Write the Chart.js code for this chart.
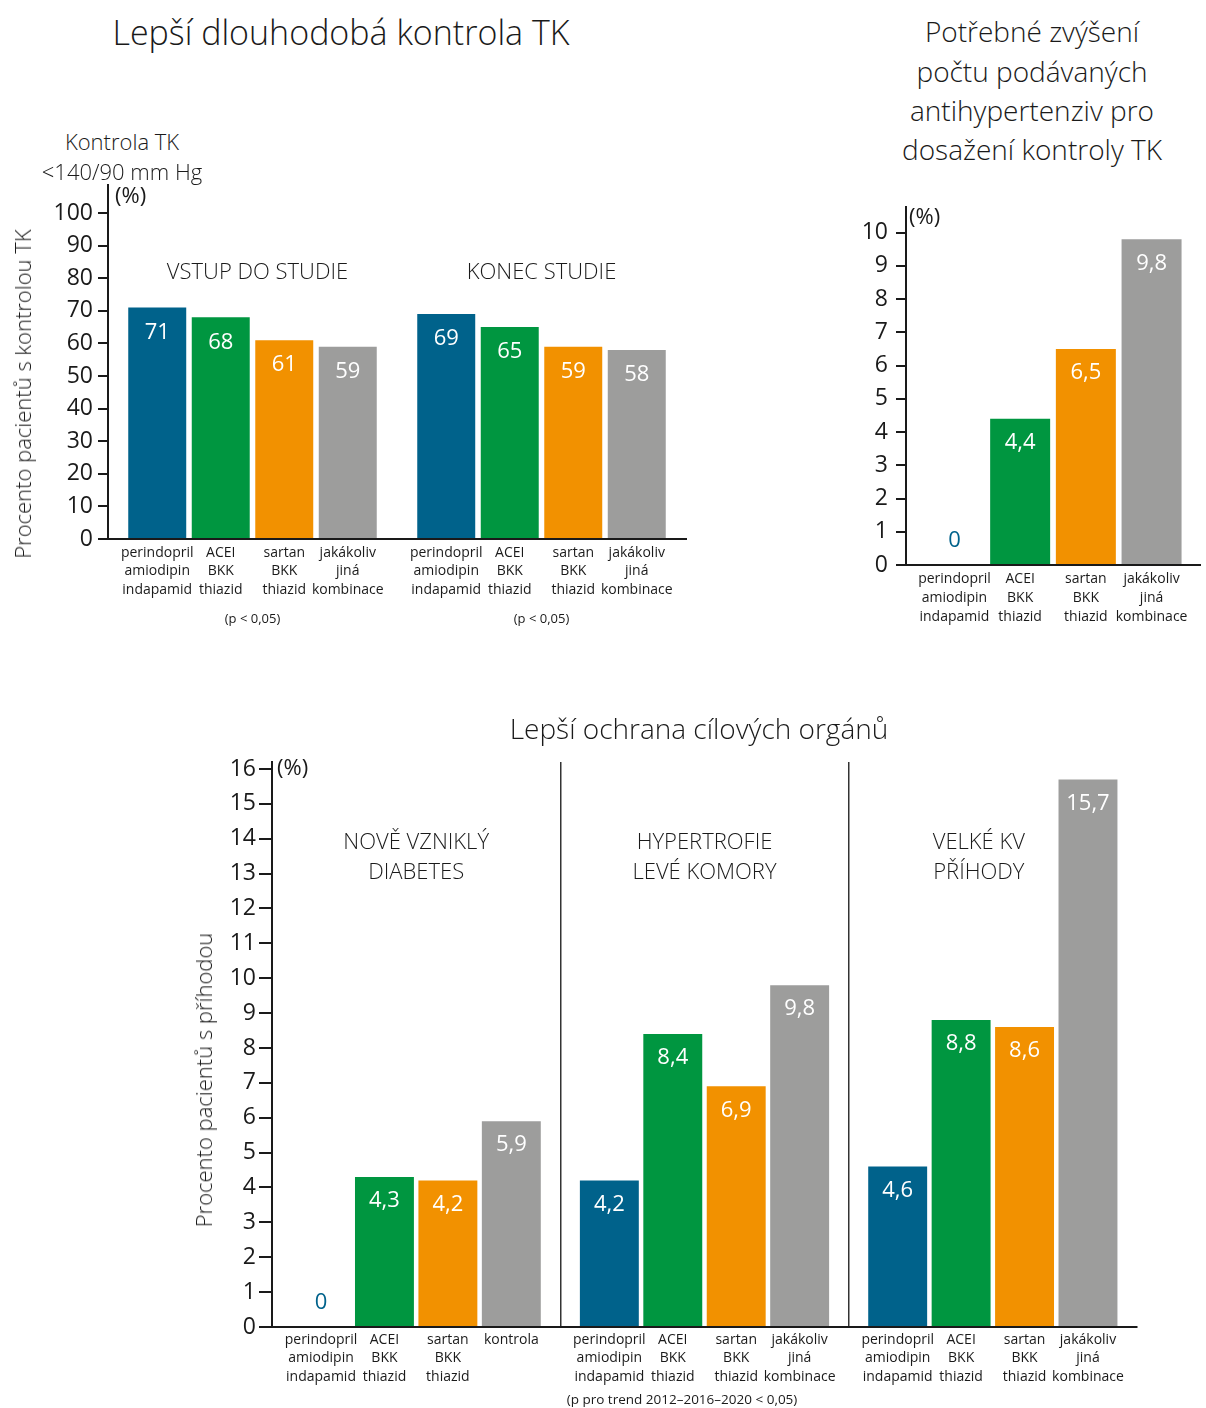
<!DOCTYPE html>
<html lang="cs">
<head>
<meta charset="utf-8">
<title>Kontrola TK a ochrana cílových orgánů</title>
<script src="https://cdn.jsdelivr.net/npm/chart.js@4.4.0/dist/chart.umd.min.js"></script>
<style>
  html, body { margin: 0; padding: 0; background: #fff; }
  #page { position: relative; width: 1206px; height: 1408px; overflow: hidden;
          font-family: "Open Sans", sans-serif; color: #1a1a1a; }
  .plot { position: absolute; }
  .t { position: absolute; white-space: nowrap; line-height: 1; transform: translate(-50%, -50%); z-index: 2; }
  .light { font-weight: 300; }
  .vert { transform: translate(-50%, -50%) rotate(-90deg); }
</style>
</head>
<body>
<div id="page">
  <div class="t light" style="left:341px; top:32px; font-size:34px;">Lepší dlouhodobá kontrola TK</div>
  <div class="t light" style="left:122px; top:141px; font-size:22px;">Kontrola TK</div>
  <div class="t light" style="left:122px; top:171px; font-size:22px;">&lt;140/90 mm Hg</div>
  <div class="t light vert" style="left:22px; top:394px; font-size:22px;">Procento pacientů s kontrolou TK</div>

  <div class="t light" style="left:1032px; top:31px; font-size:28px;">Potřebné zvýšení</div>
  <div class="t light" style="left:1032px; top:71px; font-size:28px;">počtu podávaných</div>
  <div class="t light" style="left:1032px; top:110px; font-size:28px;">antihypertenziv pro</div>
  <div class="t light" style="left:1032px; top:149px; font-size:28px;">dosažení kontroly TK</div>

  <div class="t light" style="left:699px; top:728px; font-size:28px;">Lepší ochrana cílových orgánů</div>
  <div class="t light vert" style="left:203px; top:1080px; font-size:22px;">Procento pacientů s příhodou</div>
  <div class="t" style="left:682px; top:1400px; font-size:13.5px;">(p pro trend 2012–2016–2020 &lt; 0,05)</div>

  <canvas id="bpControl" class="plot" style="left:0px; top:165px;" width="700" height="475"></canvas>
  <canvas id="drugIncrease" class="plot" style="left:840px; top:185px;" width="366" height="455"></canvas>
  <canvas id="organs" class="plot" style="left:180px; top:742px;" width="1000" height="666"></canvas>
</div>
<script>
// ---- shared series definitions ----
const seriesNames = ['perindopril + amiodipin + indapamid', 'ACEI + BKK + thiazid', 'sartan + BKK + thiazid', 'jakákoliv jiná kombinace'];
const seriesColors = ['#00628b', '#009640', '#f29100', '#9d9d9c'];
const regimenLabels = [
  ['perindopril', 'amiodipin', 'indapamid'],
  ['ACEI', 'BKK', 'thiazid'],
  ['sartan', 'BKK', 'thiazid'],
  ['jakákoliv', 'jiná', 'kombinace']
];
const controlLabel = ['kontrola'];

// ---- long-term BP control (%) ----
const bpPhases = ['VSTUP DO STUDIE', 'KONEC STUDIE'];
const bpPerindopril = [71, 69];
const bpAceiBkk = [68, 65];
const bpSartanBkk = [61, 59];
const bpOther = [59, 58];
const bpNotes = ['(p < 0,05)', '(p < 0,05)'];
const bpTicks = [0, 10, 20, 30, 40, 50, 60, 70, 80, 90, 100];

// ---- required increase in number of drugs (%) ----
const increaseGroup = ['zvýšení počtu antihypertenziv'];
const increaseValues = [0, 4.4, 6.5, 9.8];
const increaseTicks = [0, 1, 2, 3, 4, 5, 6, 7, 8, 9, 10];

// ---- target organ protection (%) ----
const organGroups = [['NOVĚ VZNIKLÝ', 'DIABETES'], ['HYPERTROFIE', 'LEVÉ KOMORY'], ['VELKÉ KV', 'PŘÍHODY']];
const orgPerindopril = [0, 4.2, 4.6];
const orgAceiBkk = [4.3, 8.4, 8.8];
const orgSartanBkk = [4.2, 6.9, 8.6];
const orgOther = [5.9, 9.8, 15.7];
const orgTicks = [0, 1, 2, 3, 4, 5, 6, 7, 8, 9, 10, 11, 12, 13, 14, 15, 16];

const fmt = v => String(v).replace('.', ',');
const INK = '#1a1a1a';

Chart.defaults.font.family = '"Open Sans", sans-serif';
Chart.defaults.color = INK;
Chart.defaults.animation = false;

// Value labels, per-bar regimen captions, group headers and notes.
const barText = {
  id: 'barText',
  afterDatasetsDraw(chart, args, o) {
    const ctx = chart.ctx;
    const xs = chart.scales.x, area = chart.chartArea;
    ctx.save();
    ctx.textAlign = 'center';
    ctx.textBaseline = 'middle';
    chart.data.datasets.forEach((ds, di) => {
      chart.getDatasetMeta(di).data.forEach((bar, ci) => {
        const v = ds.data[ci];
        ctx.font = o.valueSize + 'px "Open Sans"';
        if (v === 0) {
          ctx.fillStyle = ds.backgroundColor;
          ctx.fillText(fmt(v), bar.x, bar.y - o.valueOffset);
        } else {
          ctx.fillStyle = '#ffffff';
          ctx.fillText(fmt(v), bar.x, bar.y + o.valueOffset);
        }
        ctx.font = o.labelSize + 'px "Open Sans"';
        ctx.fillStyle = INK;
        const lines = o.barLabels[ci][di];
        lines.forEach((line, k) => ctx.fillText(line, bar.x, area.bottom + o.labelTop + k * o.labelLine));
      });
    });
    ctx.font = '300 ' + o.headerSize + 'px "Open Sans"';
    ctx.fillStyle = INK;
    chart.data.labels.forEach((lab, ci) => {
      if (!o.showHeaders) return;
      const lines = Array.isArray(lab) ? lab : [lab];
      const x = xs.getPixelForValue(ci) + (o.headerShift ? o.headerShift[ci] : 0);
      lines.forEach((line, k) => ctx.fillText(line, x, area.top + o.headerTop + k * o.headerLine));
    });
    if (o.notes) {
      ctx.font = o.noteSize + 'px "Open Sans"';
      o.notes.forEach((n, ci) => ctx.fillText(n, xs.getPixelForValue(ci), area.bottom + o.noteTop));
    }
    ctx.textAlign = 'left';
    ctx.font = '22px "Open Sans"';
    ctx.fillText('(%)', area.left + o.unitDx, area.top + o.unitDy);
    ctx.restore();
  }
};

function datasetsFrom(seriesList) {
  return seriesList.map((data, i) => ({
    label: seriesNames[i],
    data: data,
    backgroundColor: seriesColors[i],
    borderWidth: 0
  }));
}

function yAxis(tickValues, max, tickLen, pad, width) {
  return {
    position: 'left',
    min: 0,
    max: max,
    afterBuildTicks: s => { s.ticks = tickValues.map(v => ({ value: v })); },
    afterFit: s => { s.width = width; },
    ticks: { font: { size: 23 }, color: INK, padding: pad, autoSkip: false, callback: v => fmt(v) },
    grid: { display: true, drawOnChartArea: false, drawTicks: true, tickLength: tickLen, color: INK, lineWidth: 2 },
    border: { display: true, color: INK, width: 2 }
  };
}

function xAxis(height, grid) {
  return {
    ticks: { display: false },
    grid: grid || { display: false },
    border: { display: true, color: INK, width: 2 },
    afterFit: s => { s.height = height; }
  };
}

// Long-term BP control
new Chart(document.getElementById('bpControl'), {
  type: 'bar',
  data: {
    labels: bpPhases,
    datasets: datasetsFrom([bpPerindopril, bpAceiBkk, bpSartanBkk, bpOther])
      .map(d => Object.assign(d, { categoryPercentage: 0.879, barPercentage: 0.913 }))
  },
  options: {
    responsive: false,
    layout: { padding: { top: 20, right: 14, left: 0, bottom: 0 } },
    scales: { x: xAxis(101), y: yAxis(bpTicks, 108.6, 10, 5, 108) },
    plugins: {
      legend: { display: false },
      tooltip: { enabled: false },
      barText: {
        valueSize: 22, valueOffset: 25,
        labelSize: 14, labelTop: 14, labelLine: 18.5,
        barLabels: bpPhases.map(() => regimenLabels),
        showHeaders: true, headerSize: 22, headerTop: 88, headerLine: 30, headerShift: [5, 0],
        notes: bpNotes, noteSize: 13, noteTop: 80,
        unitDx: 7, unitDy: 12
      }
    }
  },
  plugins: [barText]
});

// Required increase of antihypertensive drugs
new Chart(document.getElementById('drugIncrease'), {
  type: 'bar',
  data: {
    labels: increaseGroup,
    datasets: datasetsFrom(increaseValues.map(v => [v]))
      .map(d => Object.assign(d, { categoryPercentage: 0.894, barPercentage: 0.913 }))
  },
  options: {
    responsive: false,
    layout: { padding: { top: 20, right: 6, left: 0, bottom: 0 } },
    scales: { x: xAxis(75), y: yAxis(increaseTicks, 10.78, 10, 8, 66) },
    plugins: {
      legend: { display: false },
      tooltip: { enabled: false },
      barText: {
        valueSize: 22, valueOffset: 24,
        labelSize: 14, labelTop: 14, labelLine: 19,
        barLabels: [regimenLabels],
        showHeaders: false,
        unitDx: 3, unitDy: 11
      }
    }
  },
  plugins: [barText]
});

// Target organ protection
new Chart(document.getElementById('organs'), {
  type: 'bar',
  data: {
    labels: organGroups,
    datasets: datasetsFrom([orgPerindopril, orgAceiBkk, orgSartanBkk, orgOther])
      .map(d => Object.assign(d, { categoryPercentage: 0.88, barPercentage: 0.929 }))
  },
  options: {
    responsive: false,
    layout: { padding: { top: 20, right: 43, left: 0, bottom: 0 } },
    scales: {
      x: xAxis(81, {
        display: true, drawOnChartArea: true, drawTicks: false, lineWidth: 1.5,
        color: c => (c.index === 1 || c.index === 2) ? '#333333' : 'rgba(0,0,0,0)'
      }),
      y: yAxis(orgTicks, 16.2, 13, 3, 92)
    },
    plugins: {
      legend: { display: false },
      tooltip: { enabled: false },
      barText: {
        valueSize: 22, valueOffset: 24,
        labelSize: 14, labelTop: 13, labelLine: 18.5,
        barLabels: [
          [regimenLabels[0], regimenLabels[1], regimenLabels[2], controlLabel],
          regimenLabels,
          regimenLabels
        ],
        showHeaders: true, headerSize: 22, headerTop: 81, headerLine: 30, headerShift: [0, 0, -14],
        unitDx: 5, unitDy: 7
      }
    }
  },
  plugins: [barText]
});
</script>
</body>
</html>
